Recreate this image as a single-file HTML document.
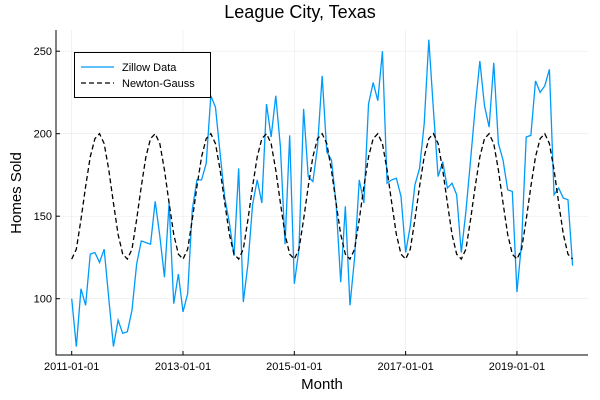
<!DOCTYPE html>
<html><head><meta charset="utf-8"><style>
body{margin:0;background:#fff}
svg{display:block;font-family:"Liberation Sans",sans-serif}
</style></head><body>
<svg id="chart" width="600" height="400">
<text x="300" y="18" text-anchor="middle" font-size="18" fill="#000">League City, Texas</text>
<g id="grid"></g>
<g id="axes"></g>
<g id="series"></g>
<text x="322" y="389" text-anchor="middle" font-size="15">Month</text>
<text transform="translate(21,193) rotate(-90)" text-anchor="middle" font-size="15">Homes Sold</text>
<g>
<rect x="74.5" y="52.5" width="136" height="45" fill="#fff" stroke="#000" stroke-width="1"/>
<g>
<line x1="81" y1="67" x2="114" y2="67" stroke="#009af9" stroke-width="1.3"/>
<text x="122" y="71" font-size="11">Zillow Data</text></g>
<g>
<line x1="81" y1="83" x2="114" y2="83" stroke="#000" stroke-width="1.3" stroke-dasharray="5,3"/>
<text x="122" y="87" font-size="11">Newton-Gauss</text></g>
</g>
</svg>
<script>
const zillow=[100,71,106,96,127,128,122,130,100,71,87,79,80,93,121,135,134,133,159,138,113,158,97,115,
92,103,154,172,172,182,223,216,188,161,146,126,179,98,121,157,172,158,218,198,223,192,133,199,
109,130,215,174,171,192,235,189,184,158,110,156,96,125,172,158,218,231,220,250,170,172,173,162,
128,144,169,179,206,257,214,174,183,167,170,163,128,153,184,216,244,217,204,243,194,184,166,165,
104,134,198,199,232,225,229,239,163,167,161,160,120];
const newtonGauss=[124,130,148,168,186,197,200,194,178,158,139,127,
124,130,148,168,186,197,200,194,178,158,139,127,
124,130,148,168,186,197,200,194,178,158,139,127,
124,130,148,168,186,197,200,194,178,158,139,127,
124,130,148,168,186,197,200,194,178,158,139,127,
124,130,148,168,186,197,200,194,178,158,139,127,
124,130,148,168,186,197,200,194,178,158,139,127,
124,130,148,168,186,197,200,194,178,158,139,127,
124,130,148,168,186,197,200,194,178,158,139,127,124];
const xTickLabels=["2011-01-01","2013-01-01","2015-01-01","2017-01-01","2019-01-01"];
const xTickMonths=[0,24,48,72,96];
const yTicks=[100,150,200,250];

const NS="http://www.w3.org/2000/svg";
const xS=i=>71.7+4.638*i;
const yS=v=>298.7-(v-100)*1.65;
function mk(tag,attrs,parent){const e=document.createElementNS(NS,tag);for(const k in attrs)e.setAttribute(k,attrs[k]);parent.appendChild(e);return e;}
const grid=document.getElementById('grid'),axes=document.getElementById('axes'),series=document.getElementById('series');
xTickMonths.forEach((m,k)=>{
  const x=xS(m);
  const g=mk('line',{x1:x,x2:x,y1:30,y2:355,stroke:'#000','stroke-opacity':0.1,'stroke-width':0.5},grid);
  
  
  mk('line',{x1:x,x2:x,y1:355,y2:351,stroke:'#000','stroke-width':1},axes);
  const t=mk('text',{x:x,y:370,'text-anchor':'middle','font-size':11},axes);
  t.textContent=xTickLabels[k];
  
  
});
yTicks.forEach(v=>{
  const y=yS(v);
  const g=mk('line',{x1:56,x2:588,y1:y,y2:y,stroke:'#000','stroke-opacity':0.1,'stroke-width':0.5},grid);
  
  
  mk('line',{x1:56,x2:60,y1:y,y2:y,stroke:'#000','stroke-width':1},axes);
  const t=mk('text',{x:52,y:y+4,'text-anchor':'end','font-size':11},axes);
  t.textContent=v;
  
  
});
mk('line',{x1:56,x2:56,y1:30,y2:355.5,stroke:'#000','stroke-width':1},axes);
mk('line',{x1:55.5,x2:588,y1:355,y2:355,stroke:'#000','stroke-width':1},axes);
const p1=mk('polyline',{points:zillow.map((v,i)=>xS(i)+','+yS(v)).join(' '),fill:'none',stroke:'#009af9','stroke-width':1.3},series);


const p2=mk('polyline',{points:newtonGauss.map((v,i)=>xS(i)+','+yS(v)).join(' '),fill:'none',stroke:'#000','stroke-width':1.3,'stroke-dasharray':'5,3'},series);


</script>
</body></html>
